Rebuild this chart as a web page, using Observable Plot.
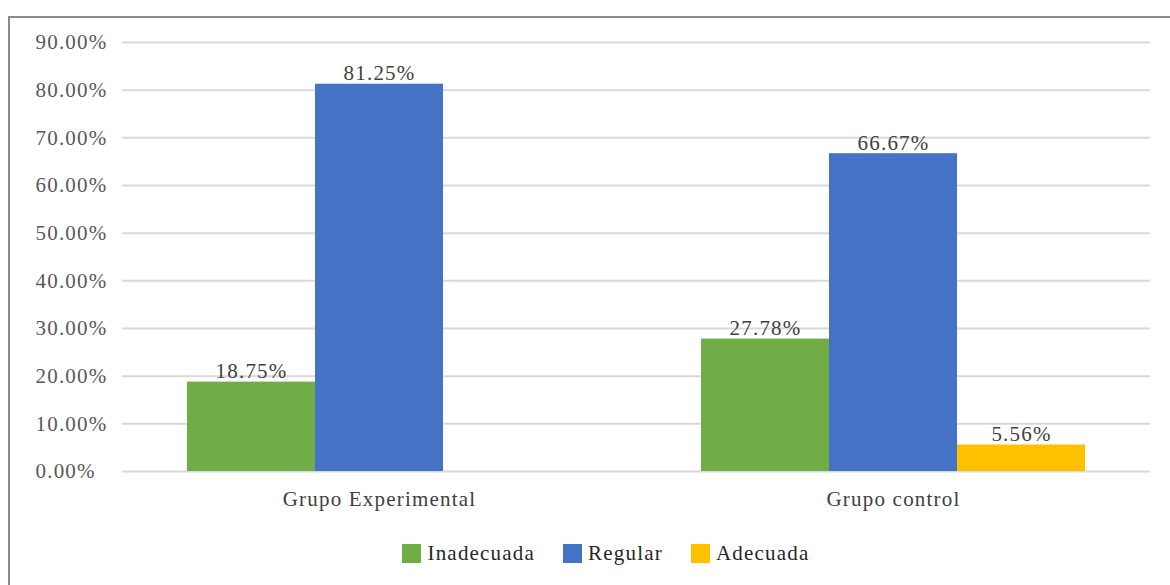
<!DOCTYPE html>
<html>
<head>
<meta charset="utf-8">
<script src="https://cdn.jsdelivr.net/npm/d3@7"></script>
<script src="https://cdn.jsdelivr.net/npm/@observablehq/plot@0.6"></script>
<style>
  html, body { margin: 0; padding: 0; background: #fff; overflow: hidden; width: 1170px; height: 585px; }
  #frame { position: absolute; left: 8px; top: 16px; width: 1200px; height: 600px; border: 2px solid #8a8a8a; box-sizing: border-box; }
  #chart { position: absolute; left: 0; top: 0; }
  #legend { position: absolute; top: 541px; left: 0; width: 1212px; display: flex; justify-content: center; gap: 28px;
            font-family: "Liberation Serif", "Times New Roman", Times, "DejaVu Serif", serif; font-size: 21px;
            letter-spacing: 1.2px; color: #262626; }
  .item { display: flex; align-items: center; gap: 6px; }
  .sw { width: 19px; height: 19px; display: inline-block; }
  #chart svg text { font-family: "Liberation Serif", "Times New Roman", Times, "DejaVu Serif", serif; letter-spacing: 1.2px; }
</style>
</head>
<body>
<div id="frame"></div>
<div id="chart"></div>
<div id="legend"></div>
<script>
const groups = ["Grupo Experimental", "Grupo control"];
const categories = ["Inadecuada", "Regular", "Adecuada"];
const inadecuada = [18.75, 27.78];
const regular = [81.25, 66.67];
const adecuada = [0, 5.56];
const colors = ["#70ad47", "#4472c4", "#ffc000"];
const yTicks = [0, 10, 20, 30, 40, 50, 60, 70, 80, 90];

const series = [inadecuada, regular, adecuada];
const data = [];
groups.forEach((g, gi) => {
  categories.forEach((c, ci) => {
    data.push({group: g, cat: c, value: series[ci][gi]});
  });
});

const serif = "'Liberation Serif', 'Times New Roman', Times, 'DejaVu Serif', serif";

const plot = Plot.plot({
  width: 1170,
  height: 520,
  marginLeft: 122,
  marginRight: 20,
  marginTop: 42,
  marginBottom: 49,
  style: {fontFamily: serif, fontSize: "21px", background: "transparent"},
  fx: {domain: groups, padding: 0, label: null, axis: null},
  x: {domain: categories, padding: 0, insetLeft: 64, insetRight: 64, axis: null},
  y: {domain: [0, 90], label: null},
  color: {domain: categories, range: colors},
  marks: [
    Plot.ruleY(yTicks, {stroke: "#d9d9d9", strokeWidth: 2}),
    Plot.barY(data, {fx: "group", x: "cat", y: "value", fill: "cat"}),
    Plot.text(data.filter(d => d.value > 0), {fx: "group", x: "cat", y: "value", text: d => d.value.toFixed(2) + "%",
      lineAnchor: "bottom", dy: -4, fill: "#404040", fontSize: 21, fontFamily: serif}),
    Plot.axisY(yTicks, {tickSize: 0, tickPadding: 0, textAnchor: "start", dx: -87, fill: "#595959", fontSize: 21,
      fontFamily: serif, tickFormat: d => d.toFixed(2) + "%", label: null}),
    Plot.axisFx({anchor: "bottom", tickSize: 0, tickPadding: 20, fill: "#404040", fontSize: 21, fontFamily: serif, label: null})
  ]
});
document.getElementById("chart").appendChild(plot);

const legend = document.getElementById("legend");
categories.forEach((c, i) => {
  const item = document.createElement("span");
  item.className = "item";
  const sw = document.createElement("span");
  sw.className = "sw";
  sw.style.background = colors[i];
  item.appendChild(sw);
  item.appendChild(document.createTextNode(c));
  legend.appendChild(item);
});
</script>
</body>
</html>
